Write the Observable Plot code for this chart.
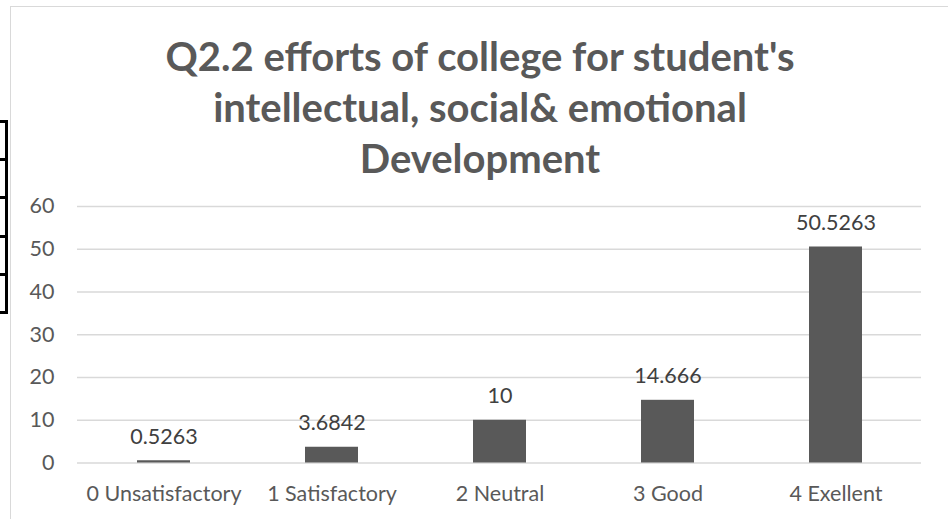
<!DOCTYPE html>
<html>
<head>
<meta charset="utf-8">
<script src="https://cdn.jsdelivr.net/npm/d3@7"></script>
<script src="https://cdn.jsdelivr.net/npm/@observablehq/plot@0.6"></script>
<style>
  html, body { margin: 0; padding: 0; background: #fff; }
  body { width: 948px; height: 519px; position: relative; overflow: hidden; font-family: Lato, "Open Sans", sans-serif; }
  #frame { position: absolute; left: 10px; top: 6px; width: 960px; height: 540px; border: 1px solid #d9d9d9; box-sizing: border-box; }
  #title { position: relative; height: 190px; width: 940px; margin-left: 10px; box-sizing: border-box; padding-top: 31px;
           text-align: center; font-weight: bold; font-size: 40px; line-height: 51px; color: #595959; }
  #chart { position: relative; }
  .cell { position: absolute; left: -14px; width: 22px; border: 3px solid #000; box-sizing: border-box; background: #fff; }
</style>
</head>
<body>
<div id="frame"></div>
<div id="title">Q2.2 efforts of college for student's<br>intellectual, social&amp; emotional<br>Development</div>
<div id="chart"></div>
<div class="cell" style="top:120px;height:41px"></div>
<div class="cell" style="top:158px;height:41px"></div>
<div class="cell" style="top:196px;height:42px"></div>
<div class="cell" style="top:235px;height:41px"></div>
<div class="cell" style="top:273px;height:41px"></div>
<script>
const categories = ["0 Unsatisfactory", "1 Satisfactory", "2 Neutral", "3 Good", "4 Exellent"];
const values = [0.5263, 3.6842, 10, 14.666, 50.5263];
const valueLabels = ["0.5263", "3.6842", "10", "14.666", "50.5263"];
const yTicks = [0, 10, 20, 30, 40, 50, 60];

const data = categories.map((c, i) => ({category: c, value: values[i], label: valueLabels[i]}));

const chart = Plot.plot({
  width: 948,
  height: 329,
  marginTop: 16,
  marginBottom: 56.5,
  marginLeft: 77,
  marginRight: 27,
  style: {fontFamily: "Lato, 'Open Sans', sans-serif", fontSize: "21.5px", background: "transparent"},
  x: {domain: categories, paddingInner: 0.686, paddingOuter: 0.343, label: null},
  y: {domain: [0, 60], label: null},
  marks: [
    Plot.gridY(yTicks, {stroke: "#d9d9d9", strokeOpacity: 1, strokeWidth: 1.5}),
    Plot.barY(data, {x: "category", y: "value", fill: "#595959"}),
    Plot.text(data, {x: "category", y: "value", text: "label", lineAnchor: "bottom", dy: -17, fill: "#404040", fontSize: 21.5}),
    Plot.axisY({ticks: yTicks, tickSize: 0, tickPadding: 23, fill: "#595959", fontSize: 21.5, label: null}),
    Plot.axisX({tickSize: 0, tickPadding: 23, fill: "#595959", fontSize: 21.5, label: null})
  ]
});
document.getElementById("chart").appendChild(chart);
</script>
</body>
</html>
